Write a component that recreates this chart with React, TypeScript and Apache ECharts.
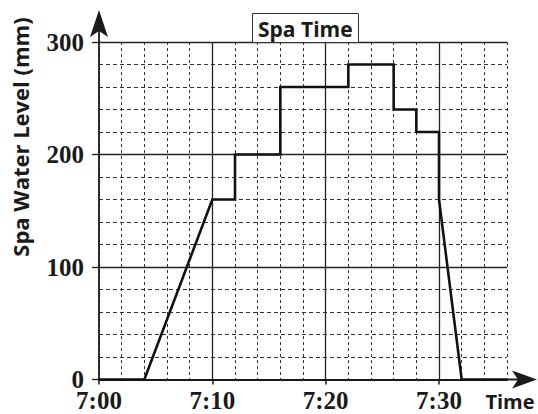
import React, { useEffect, useRef } from "react";
import * as echarts from "echarts";

const minutesAfterSeven = [0, 4, 10, 12, 12, 16, 16, 22, 22, 26, 26, 28, 28, 30, 30, 32, 36];
const waterLevelMm = [0, 0, 160, 160, 200, 200, 260, 260, 280, 280, 240, 240, 220, 220, 160, 0, 0];
const xTickLabels = ["7:00", "7:10", "7:20", "7:30"];
const yTickValues = [0, 100, 200, 300];

const W = 538;
const H = 414;
const GL = 99;
const GT = 42;
const GW = 408;
const GH = 337.5;

export default function App() {
  const ref = useRef<HTMLDivElement>(null);
  useEffect(() => {
    if (!ref.current) return;
    const chart = echarts.init(ref.current, null, { renderer: "svg" });
    const serif = "'Liberation Serif', 'DejaVu Serif', serif";
    const sans = "'Open Sans', Lato, sans-serif";
    const ink = "#1a1a1a";
    const axisBottom = GT + GH;
    const axisRight = GL + GW;
    chart.setOption({
      animation: false,
      backgroundColor: "#fff",
      grid: { left: GL, top: GT, width: GW, height: GH, containLabel: false },
      title: {
        text: "Spa Time",
        left: 252,
        top: 13,
        backgroundColor: "#fff",
        borderColor: "#333",
        borderWidth: 1,
        padding: [4, 6, 3, 6],
        textStyle: { fontFamily: sans, fontWeight: "bold", fontSize: 21, color: ink, lineHeight: 23 },
        z: 10,
      },
      xAxis: [
        {
          type: "value", min: 0, max: 36, interval: 2,
          axisLine: { show: false }, axisTick: { show: false }, axisLabel: { show: false },
          splitLine: { show: true, lineStyle: { color: "#333", width: 1, type: [3, 3] } },
        },
        {
          type: "value", min: 0, max: 36, interval: 10, position: "bottom",
          axisLine: { show: true, onZero: false, lineStyle: { color: ink, width: 2 } },
          axisTick: { show: true, length: 5, lineStyle: { color: ink, width: 1.5 } },
          axisLabel: {
            show: true, margin: 10, showMaxLabel: false, lineHeight: 21,
            fontFamily: serif, fontWeight: "bold", fontSize: 25, color: ink,
            formatter: (v: number) => (v % 10 === 0 ? xTickLabels[v / 10] ?? "" : ""),
          },
          splitLine: { show: true, showMaxLine: false, showMinLine: false, lineStyle: { color: "#222", width: 1.3 } },
        },
      ],
      yAxis: [
        {
          type: "value", min: 0, max: 300, interval: 20,
          axisLine: { show: false }, axisTick: { show: false }, axisLabel: { show: false },
          splitLine: { show: true, lineStyle: { color: "#333", width: 1, type: [4, 3] } },
        },
        {
          type: "value", min: 0, max: 300, interval: 100, position: "left",
          axisLine: { show: true, onZero: false, lineStyle: { color: ink, width: 1.8 } },
          axisTick: { show: true, length: 7, lineStyle: { color: ink, width: 1.3 } },
          axisLabel: {
            show: true, margin: 15, lineHeight: 18,
            fontFamily: serif, fontWeight: "bold", fontSize: 25, color: ink,
            formatter: (v: number) => (yTickValues.includes(v) ? String(v) : ""),
          },
          splitLine: { show: true, showMinLine: false, lineStyle: { color: "#222", width: 1.3 } },
        },
      ],
      series: [
        {
          type: "line",
          xAxisIndex: 1,
          yAxisIndex: 1,
          data: minutesAfterSeven.map((m, i) => [m, waterLevelMm[i]]),
          symbol: "none",
          lineStyle: { color: "#111", width: 2.6, join: "miter" },
          z: 5,
        },
      ],
      graphic: [
        { type: "line", shape: { x1: GL, y1: GT, x2: GL, y2: 22 }, style: { stroke: ink, lineWidth: 1.8 }, z: 20 },
        { type: "polygon", shape: { points: [[GL, 10], [GL + 9, 37], [GL, 31], [GL - 9, 37]] }, style: { fill: ink }, z: 20 },
        { type: "line", shape: { x1: axisRight, y1: axisBottom, x2: 522, y2: axisBottom }, style: { stroke: ink, lineWidth: 2 }, z: 20 },
        { type: "polygon", shape: { points: [[537, axisBottom], [512, axisBottom - 9], [518, axisBottom], [512, axisBottom + 9]] }, style: { fill: ink }, z: 20 },
        {
          type: "text", x: 510, y: 401,
          style: { text: "Time", fontFamily: sans, fontWeight: "bold", fontSize: 20, fill: ink, align: "center", verticalAlign: "middle" },
          z: 20,
        },
        {
          type: "text", x: 20, y: 137, rotation: Math.PI / 2,
          style: { text: "Spa Water Level (mm)", fontFamily: sans, fontWeight: "bold", fontSize: 22, fill: ink, align: "center", verticalAlign: "middle" },
          z: 20,
        },
      ],
    });
    return () => chart.dispose();
  }, []);
  return <div ref={ref} style={{ position: "fixed", left: 0, top: 0, width: W, height: H }} />;
}
